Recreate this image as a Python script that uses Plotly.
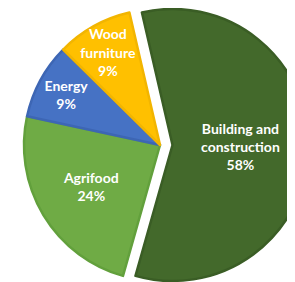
import plotly.graph_objects as go

labels = ["Building and<br>construction", "Agrifood", "Energy", "Wood<br>furniture"]
values = [58, 24, 9, 9]
colors = ["#43692B", "#6FAB45", "#4672C4", "#FFC000"]
border_colors = ["#3A5D25", "#62A03C", "#3D66B4", "#F2B500"]
exploded = [True, False, False, False]

# the page body has a default 8px margin, so figure coordinates are offset by 8px
W, H = 320, 282
R = 136            # pie radius in px
CX, CY = 152, 137  # centre of the un-exploded pie (figure coords)
PULL_PX = 12.5

def domain(cx, cy, r):
    return dict(x=[(cx - r) / W, (cx + r) / W],
                y=[(H - cy - r) / H, (H - cy + r) / H])

def make_trace(show_exploded, cx):
    vis = [e == show_exploded for e in exploded]
    return go.Pie(
        labels=labels,
        values=values,
        sort=False,
        direction="clockwise",
        rotation=-13,
        marker=dict(
            colors=[c if v else "rgba(0,0,0,0)" for c, v in zip(colors, vis)],
            line=dict(color=[b if v else "rgba(0,0,0,0)" for b, v in zip(border_colors, vis)],
                      width=2.5),
        ),
        texttemplate=["%{label}<br>%{percent:.0%}" if v else " " for v in vis],
        textposition="inside",
        insidetextorientation="horizontal",
        textfont=dict(family="Lato", size=14, color="white", weight="bold"),
        domain=domain(cx, CY, R),
        showlegend=False,
        hoverinfo="skip",
    )

fig = go.Figure([
    make_trace(False, CX),
    make_trace(True, CX + PULL_PX),
])
fig.update_layout(
    width=W, height=H,
    margin=dict(l=0, r=0, t=0, b=0),
    paper_bgcolor="white",
    uniformtext=dict(minsize=14, mode="show"),
)
fig.write_html("out.html")
